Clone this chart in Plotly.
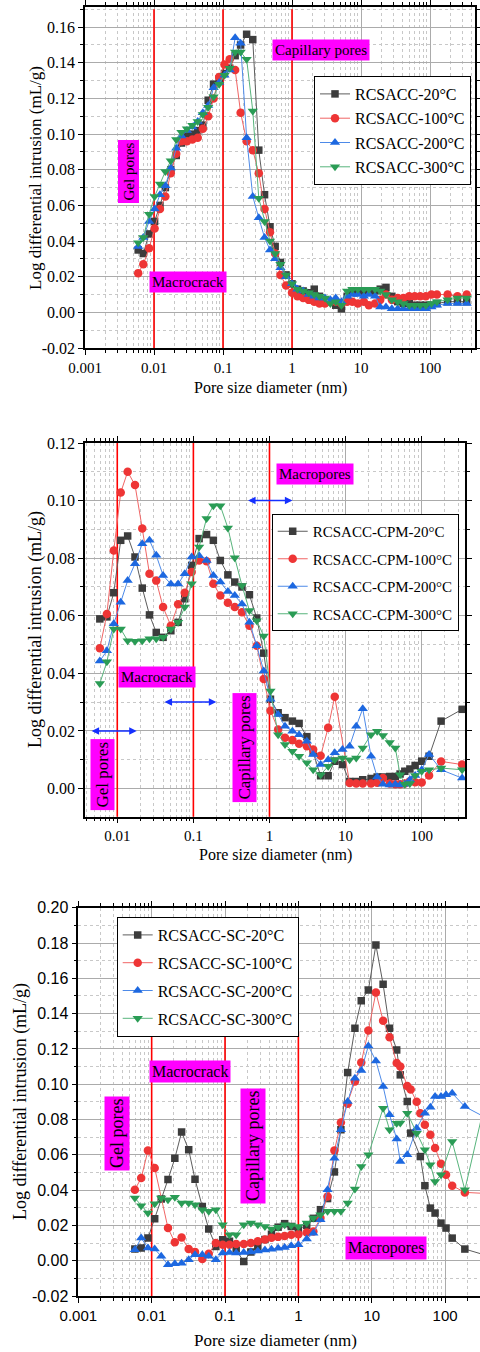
import numpy as np
import plotly.graph_objects as go

W, H = 480, 1352
SERIF = "Liberation Serif, Times New Roman, DejaVu Serif, serif"
SANS = "Liberation Sans, Arial, sans-serif"

# ---------------- Panel 1 data ----------------
p1_x = [0.0059, 0.0070, 0.0085, 0.0102, 0.0122, 0.0146, 0.0175, 0.021, 0.025, 0.030,
        0.036, 0.043, 0.051, 0.061, 0.073, 0.088, 0.105, 0.125, 0.15, 0.18,
        0.22, 0.27, 0.33, 0.40, 0.48, 0.57, 0.68, 0.82, 1.0, 1.2,
        1.45, 1.75, 2.1, 2.5, 3.0, 3.6, 4.3, 5.2, 6.3, 7.5,
        9.0, 11, 13, 16, 19, 23, 28, 34, 41, 50,
        60, 72, 87, 105, 126, 180, 250, 340]
p1_20 = [0.035, 0.033, 0.044, 0.051, 0.060, 0.070, 0.080, 0.088, 0.095, 0.099,
         0.100, 0.102, 0.105, 0.119, 0.128, 0.131, 0.134, 0.137, 0.144, 0.150,
         0.156, 0.153, 0.091, 0.066, 0.048, 0.037, 0.028, 0.021, 0.016, 0.013,
         0.012, 0.011, 0.013, 0.009, 0.007, 0.006, 0.004, 0.002, 0.009, 0.012,
         0.012, 0.012, 0.012, 0.012, 0.013, 0.014, 0.009, 0.006, 0.005, 0.005,
         0.004, 0.004, 0.004, 0.004, 0.005, 0.006, 0.006, 0.006]
p1_100 = [0.022, 0.027, 0.036, 0.047, 0.058, 0.065, 0.078, 0.089, 0.096, 0.096,
          0.097, 0.098, 0.103, 0.110, 0.120, 0.132, 0.139, 0.142, 0.136, 0.112,
          0.096, 0.091, 0.078, 0.058, 0.045, 0.033, 0.021, 0.015, 0.011, 0.009,
          0.008, 0.007, 0.006, 0.005, 0.005, 0.006, 0.006, 0.005, 0.006, 0.006,
          0.005, 0.006, 0.004, 0.005, 0.007, 0.010, 0.007, 0.008, 0.008, 0.009,
          0.009, 0.009, 0.009, 0.010, 0.010, 0.010, 0.009, 0.010]
p1_200 = [0.037, 0.042, 0.051, 0.058, 0.066, 0.071, 0.081, 0.092, 0.099, 0.102,
          0.104, 0.107, 0.112, 0.116, 0.126, 0.129, 0.133, 0.136, 0.154, 0.151,
          0.098, 0.065, 0.053, 0.042, 0.035, 0.030, 0.025, 0.020, 0.016, 0.013,
          0.012, 0.010, 0.009, 0.008, 0.008, 0.007, 0.008, 0.006, 0.009, 0.010,
          0.010, 0.009, 0.010, 0.009, 0.003, 0.003, 0.002, 0.002, 0.002, 0.002,
          0.002, 0.002, 0.002, 0.003, 0.004, 0.005, 0.005, 0.005]
p1_300 = [0.039, 0.042, 0.055, 0.065, 0.072, 0.079, 0.085, 0.097, 0.101, 0.103,
          0.105, 0.107, 0.111, 0.115, 0.121, 0.128, 0.133, 0.137, 0.146, 0.146,
          0.142, 0.113, 0.064, 0.051, 0.040, 0.033, 0.027, 0.021, 0.016, 0.013,
          0.012, 0.011, 0.010, 0.009, 0.008, 0.005, 0.006, 0.004, 0.012, 0.013,
          0.013, 0.013, 0.013, 0.013, 0.012, 0.010, 0.007, 0.006, 0.005, 0.004,
          0.004, 0.004, 0.004, 0.005, 0.006, 0.007, 0.008, 0.008]
p1_names = ["RCSACC-20°C", "RCSACC-100°C", "RCSACC-200°C", "RCSACC-300°C"]

# ---------------- Panel 2 data ----------------
p2_x = [0.0059, 0.0073, 0.0090, 0.0111, 0.0137, 0.0171, 0.0213, 0.0265, 0.0325, 0.040,
        0.0506, 0.063, 0.077, 0.095, 0.119, 0.149, 0.183, 0.226, 0.284, 0.35,
        0.435, 0.545, 0.68, 0.84, 1.03, 1.3, 1.6, 2.0, 2.45, 3.1,
        3.75, 4.7, 5.9, 7.2, 9.1, 11.3, 13.8, 16.8, 21.6, 26,
        31, 38, 45, 52, 60, 70, 82, 100, 125, 180, 340]
p2_20 = [0.0589, 0.0596, 0.068, 0.0862, 0.0877, 0.0804, 0.0696, 0.0603, 0.0542, 0.0525,
         0.0548, 0.0577, 0.0659, 0.0775, 0.0868, 0.0882, 0.0862, 0.0792, 0.0742, 0.0717,
         0.070, 0.0673, 0.0592, 0.047, 0.031, 0.0263, 0.0246, 0.0234, 0.0226, 0.018,
         0.0125, 0.0044, 0.0044, 0.0095, 0.0083, 0.0024, 0.0024, 0.003, 0.0035, 0.004,
         0.004, 0.0042, 0.0042, 0.005, 0.006, 0.0068, 0.008, 0.0095, 0.0112, 0.0234, 0.0275]
p2_100 = [0.0487, 0.0606, 0.0827, 0.1028, 0.110, 0.1054, 0.0903, 0.0746, 0.0722, 0.063,
          0.0565, 0.064, 0.068, 0.0752, 0.0792, 0.0789, 0.0711, 0.067, 0.0645, 0.063,
          0.0612, 0.0565, 0.0496, 0.038, 0.027, 0.0205, 0.0176, 0.0168, 0.0155, 0.0147,
          0.0135, 0.0114, 0.0211, 0.0319, None, 0.0019, 0.0017, 0.0017, 0.0017, 0.002,
          0.0036, 0.0017, 0.0015, 0.0015, 0.0017, 0.0025, 0.0022, 0.0021, 0.0045, 0.0094, 0.0083]
p2_200 = [0.0443, 0.0478, 0.0572, 0.0647, 0.0722, 0.0781, 0.085, 0.0862, 0.081, 0.074,
          0.071, 0.071, 0.0746, 0.0804, 0.0808, 0.0792, 0.074, 0.0717, 0.0684, 0.067,
          0.0641, 0.0577, 0.0496, 0.0408, 0.031, 0.0257, 0.0216, 0.0199, 0.0187, 0.0164,
          0.0118, 0.0083, 0.010, 0.0124, 0.0135, 0.0147, 0.0216, 0.0277, 0.0112, 0.004,
          0.0015, 0.0012, 0.0015, 0.0012, 0.0015, 0.003, 0.0045, 0.0065, 0.0118, 0.0065, 0.0036]
p2_300 = [0.0365, 0.044, 0.0554, 0.0554, 0.0513, 0.0511, 0.0513, 0.052, 0.052, 0.0525,
          0.0554, 0.0577, 0.063, 0.0711, 0.0839, 0.0938, 0.0982, 0.0982, 0.0905, 0.0801,
          0.0705, 0.0618, 0.0583, 0.053, 0.0339, 0.0187, 0.0153, 0.0129, 0.0112, 0.0089,
          0.0065, 0.0048, 0.0077, 0.010, 0.0106, 0.010, 0.0106, 0.0141, 0.0187, 0.0199,
          0.0184, 0.016, 0.0141, 0.0048, 0.0015, 0.0017, 0.0045, 0.006, 0.0065, 0.0071, 0.0065]
p2_names = ["RCSACC-CPM-20°C", "RCSACC-CPM-100°C", "RCSACC-CPM-200°C", "RCSACC-CPM-300°C"]

# ---------------- Panel 3 data ----------------
p3_x = [0.0059, 0.0072, 0.0089, 0.011, 0.0135, 0.0167, 0.0207, 0.0256, 0.032, 0.039,
        0.049, 0.06, 0.075, 0.093, 0.115, 0.142, 0.18, 0.225, 0.28, 0.35,
        0.43, 0.53, 0.65, 0.8, 1.0, 1.3, 1.6, 2.0, 2.5, 3.1,
        3.8, 4.7, 5.9, 7.2, 9.0, 11.4, 14.3, 17.5, 21.9, 24.5,
        30.5, 34, 41, 46, 53, 63, 73, 88, 103, 125, 186, 400]
p3_20 = [0.0066, 0.0072, 0.0128, 0.0237, 0.035, 0.046, 0.058, 0.0729, 0.0628, 0.0462,
         0.0307, 0.0179, 0.0081, 0.0119, 0.011, 0.006, -0.0004, 0.005, 0.0081, 0.012,
         0.015, 0.019, 0.021, 0.0194, 0.018, 0.020, 0.024, 0.0289, 0.0352, 0.0503,
         0.0742, 0.1066, 0.1317, 0.1473, 0.1534, 0.1789, 0.1566, 0.1317, 0.1194, 0.1053,
         0.0902, 0.0723, None, 0.059, 0.0425, 0.0298, 0.027, 0.0213, 0.0185, 0.0128, 0.0066, 0.0025]
p3_100 = [0.0402, 0.0468, 0.0624, 0.0525, None, 0.0185, 0.0104, 0.0132, 0.0066, 0.005,
          0.001, 0.004, 0.010, 0.009, 0.009, 0.0095, 0.0095, 0.010, 0.011, 0.012,
          0.013, 0.0135, 0.014, 0.0147, 0.015, 0.016, 0.0166, 0.0242, 0.0364, 0.0624,
          0.0783, 0.0889, 0.1015, 0.1123, 0.1304, 0.1519, 0.136, 0.1266, 0.112, 0.110,
          0.099, 0.097, 0.090, 0.0836, 0.077, 0.0713, 0.0638, 0.0549, 0.0487, 0.0425, 0.0387, 0.038]
p3_200 = [0.0062, 0.0128, 0.0072, 0.0066, 0.0025, -0.0023, -0.0017, -0.0015, 0.0006, 0.0034,
          0.0034, 0.0025, 0.0006, 0.0044, 0.0047, 0.0044, 0.0047, 0.005, 0.0055, 0.006,
          0.0065, 0.007, 0.0075, 0.0085, 0.009, 0.0123, 0.0155, 0.0232, 0.0402, 0.0581,
          0.0742, 0.0902, 0.1034, 0.1077, 0.1217, 0.1132, 0.0987, 0.0827, 0.0689, 0.0562,
          0.060, None, 0.0751, None, 0.0836, 0.087, 0.093, 0.093, 0.094, 0.0949, 0.0873, 0.080]
p3_300 = [0.0355, 0.0311, 0.027, 0.0323, 0.0355, 0.0345, 0.036, 0.0327, 0.0327, 0.0317,
          0.0289, 0.028, 0.0289, 0.0204, 0.0147, 0.0147, 0.0204, 0.0213, 0.0204, 0.0194,
          0.018, 0.019, 0.0204, 0.020, 0.0194, 0.0213, 0.0242, 0.026, 0.028, 0.028,
          0.028, 0.0327, 0.0406, 0.0534, 0.060, None, 0.0864, 0.0742, 0.0779, 0.078,
          0.0836, None, 0.0722, None, 0.0628, 0.0544, 0.0449, 0.0487, None, 0.0675, 0.0402, 0.10]
p3_names = ["RCSACC-SC-20°C", "RCSACC-SC-100°C", "RCSACC-SC-200°C", "RCSACC-SC-300°C"]

# boundaries between pore classes (nm)
boundaries = [0.01, 0.1, 1]

# axis ticks
x_tickvals = [0.001, 0.01, 0.1, 1, 10, 100]
x_ticktext = ["0.001", "0.01", "0.1", "1", "10", "100"]
y1_ticks = [-0.02, 0.0, 0.02, 0.04, 0.06, 0.08, 0.10, 0.12, 0.14, 0.16]
y2_ticks = [0.0, 0.02, 0.04, 0.06, 0.08, 0.10, 0.12]
y3_ticks = [-0.02, 0.0, 0.02, 0.04, 0.06, 0.08, 0.10, 0.12, 0.14, 0.16, 0.18, 0.20]

# ---------------- styles ----------------
STYLES = [
    dict(symbol="square", mcolor="#3c3c3c", lcolor="#5c5c5c", size=7.5),
    dict(symbol="circle", mcolor="#ee3535", lcolor="#f06565", size=8.5),
    dict(symbol="triangle-up", mcolor="#1d68e0", lcolor="#4d8ae8", size=9),
    dict(symbol="triangle-down", mcolor="#2a9c55", lcolor="#58b47c", size=9),
]

minor_log = [m * 10.0 ** e for e in range(-4, 4) for m in range(2, 10)]


def fx(p):
    return p / W


def fy(p):
    return 1 - p / H


fig = go.Figure()

panels = [
    dict(x=p1_x, ys=[p1_20, p1_100, p1_200, p1_300], names=p1_names, xa="x", ya="y",
         legend="legend", ylim=(-0.02, 0.17), line_top=0.17),
    dict(x=p2_x, ys=[p2_20, p2_100, p2_200, p2_300], names=p2_names, xa="x2", ya="y2",
         legend="legend2", ylim=(-0.01, 0.12), line_top=0.12),
    dict(x=p3_x, ys=[p3_20, p3_100, p3_200, p3_300], names=p3_names, xa="x3", ya="y3",
         legend="legend3", ylim=(-0.02, 0.20), line_top=0.13),
]

for pn in panels:
    for b in boundaries:
        fig.add_trace(go.Scatter(x=[b, b], y=[pn["ylim"][0], pn["line_top"]], mode="lines",
                                 line=dict(color="#ff0000", width=1.6), showlegend=False,
                                 hoverinfo="skip", xaxis=pn["xa"], yaxis=pn["ya"]))
    for i, (yv, nm) in enumerate(zip(pn["ys"], pn["names"])):
        st = STYLES[i]
        fig.add_trace(go.Scatter(
            x=pn["x"], y=yv, name=nm, mode="lines+markers", connectgaps=True,
            line=dict(color=st["lcolor"], width=1),
            marker=dict(symbol=st["symbol"], color=st["mcolor"], size=st["size"], line=dict(width=0)),
            xaxis=pn["xa"], yaxis=pn["ya"], legend=pn["legend"], legendgroup=pn["legend"] + str(i)))


def xaxis_cfg(d0, d1, rng, anchor, font):
    return dict(type="log", domain=[d0, d1], range=rng, anchor=anchor, automargin=False,
                tickmode="array", tickvals=x_tickvals, ticktext=x_ticktext,
                showline=True, linecolor="black", linewidth=1.5, mirror="ticks",
                ticks="outside", ticklen=5, tickwidth=1.2, tickcolor="black",
                showgrid=True, gridcolor="#ababab", gridwidth=1, zeroline=False,
                tickfont=font,
                minor=dict(tickmode="array", tickvals=minor_log, ticks="outside", ticklen=3,
                           tickcolor="black", showgrid=True, gridcolor="#c8c8c8", griddash="dot"))


def yaxis_cfg(d0, d1, rng, anchor, ticks, font):
    return dict(domain=[d0, d1], range=list(rng), anchor=anchor, automargin=False,
                tickmode="array", tickvals=ticks, ticktext=[f"{v:.2f}" for v in ticks],
                showline=True, linecolor="black", linewidth=1.5, mirror="ticks",
                ticks="outside", ticklen=5, tickwidth=1.2, tickcolor="black",
                showgrid=True, gridcolor="#ababab", gridwidth=1, zeroline=False,
                tickfont=font,
                minor=dict(tickmode="linear", tick0=0, dtick=0.01, ticks="outside", ticklen=3,
                           tickcolor="black", showgrid=True, gridcolor="#c8c8c8", griddash="dot"))


serif_y = dict(family=SERIF, size=16, color="black")
serif_x = dict(family=SERIF, size=15, color="black")
sans_y = dict(family=SANS, size=16, color="black")
sans_x = dict(family=SANS, size=15, color="black")

layout = dict(
    template="none",
    width=W, height=H, margin=dict(l=0, r=0, t=0, b=0, pad=0, autoexpand=False),
    paper_bgcolor="white", plot_bgcolor="white",
    font=dict(family=SERIF, color="black"),
    xaxis=xaxis_cfg(fx(85), fx(475), [-3, 2.652], "y", serif_x),
    yaxis=yaxis_cfg(fy(348), fy(7), (-0.02, 0.1713), "x", y1_ticks, serif_y),
    xaxis2=xaxis_cfg(fx(85), fx(465), [-2.424, 2.569], "y2", serif_x),
    yaxis2=yaxis_cfg(fy(816.7), fy(443), (-0.0098, 0.12), "x2", y2_ticks, serif_y),
    xaxis3=xaxis_cfg(fx(78.3), 1.0, [-3, 2.476], "y3", sans_x),
    yaxis3=yaxis_cfg(fy(1296), fy(907.7), (-0.02, 0.20), "x3", y3_ticks, sans_y),
    showlegend=True,
)

leg_common = dict(bgcolor="white", bordercolor="black", borderwidth=1, xanchor="left",
                  yanchor="top", traceorder="grouped", itemclick=False)
layout["legend"] = dict(x=fx(314), y=fy(76), font=dict(family=SERIF, size=16, color="black"),
                        tracegroupgap=0.5, **leg_common)
layout["legend2"] = dict(x=fx(271.7), y=fy(514), font=dict(family=SERIF, size=15, color="black"),
                         tracegroupgap=5, **leg_common)
layout["legend3"] = dict(x=fx(116.7), y=fy(917), font=dict(family=SERIF, size=16, color="black"),
                         tracegroupgap=4, **leg_common)

fig.update_layout(**layout)

annotations = []


def label_box(text, cx, cy, size, rot=False):
    annotations.append(dict(x=fx(cx), y=fy(cy), xref="paper", yref="paper", text=text,
                            showarrow=False, bgcolor="#ff00ff", borderpad=2,
                            textangle=-90 if rot else 0, xanchor="center", yanchor="middle",
                            font=dict(family=SERIF, size=size, color="black")))


label_box("Capillary pores", 320.5, 49.5, 15)
label_box("Gel pores", 129, 171.5, 15, rot=True)
label_box("Macrocrack", 188, 282, 15)
label_box("Macropores", 314.5, 474.5, 15)
label_box("Macrocrack", 156.5, 677, 15)
label_box("Gel pores", 102.3, 774.3, 17, rot=True)
label_box("Capillary pores", 244.3, 747.3, 17, rot=True)
label_box("Macrocrack", 189.5, 1071.5, 16)
label_box("Gel pores", 116.5, 1133.5, 18, rot=True)
label_box("Capillary pores", 253, 1146, 18, rot=True)
label_box("Macropores", 386.3, 1248, 16)

arrow_spans = [(0.5, 2.0, 0.10), (0.04, 0.2, 0.03), (0.0044, 0.018, 0.02)]
for a, b, yv in arrow_spans:
    annotations.append(dict(x=np.log10(b), y=yv, ax=np.log10(a), ay=yv, xref="x2", yref="y2",
                            axref="x2", ayref="y2", text="", showarrow=True, arrowhead=2,
                            arrowside="end+start", arrowsize=1, arrowwidth=1.5,
                            arrowcolor="#1530ff"))

ytitle = "Log differential intrusion (mL/g)"
xtitle = "Pore size diameter (nm)"
for cx, cy, sz in [(35, 178, 17), (35, 630, 18), (20, 1102, 18)]:
    annotations.append(dict(x=fx(cx), y=fy(cy), xref="paper", yref="paper", text=ytitle,
                            showarrow=False, textangle=-90, xanchor="center", yanchor="middle",
                            font=dict(family=SERIF, size=sz, color="black")))
for cx, cy, sz in [(270, 388, 16), (275, 855, 16), (275, 1340, 17)]:
    annotations.append(dict(x=fx(cx), y=fy(cy), xref="paper", yref="paper", text=xtitle,
                            showarrow=False, xanchor="center", yanchor="middle",
                            font=dict(family=SERIF, size=sz, color="black")))

fig.update_layout(annotations=annotations)

fig.write_html("out.html")
